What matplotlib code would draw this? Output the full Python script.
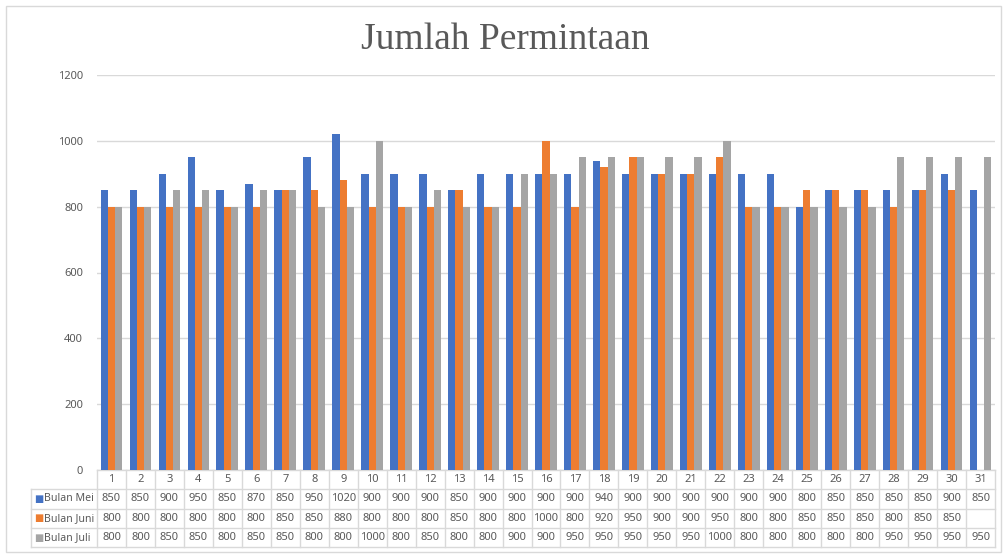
import matplotlib.pyplot as plt
import matplotlib.transforms as mtransforms
from matplotlib.patches import Rectangle
import numpy as np

# data
days = [str(i) for i in range(1, 32)]
mei = [850, 850, 900, 950, 850, 870, 850, 950, 1020, 900, 900, 900, 850, 900, 900, 900,
       900, 940, 900, 900, 900, 900, 900, 900, 800, 850, 850, 850, 850, 900, 850]
juni = [800, 800, 800, 800, 800, 800, 850, 850, 880, 800, 800, 800, 850, 800, 800, 1000,
        800, 920, 950, 900, 900, 950, 800, 800, 850, 850, 850, 800, 850, 850, None]
juli = [800, 800, 850, 850, 800, 850, 850, 800, 800, 1000, 800, 850, 800, 800, 900, 900,
        950, 950, 950, 950, 950, 1000, 800, 800, 800, 800, 800, 950, 950, 950, 950]
series_names = ["Bulan Mei", "Bulan Juni", "Bulan Juli"]
colors = ["#4472C4", "#ED7D31", "#A5A5A5"]

txt_col = "#595959"
grid_col = "#D9D9D9"

fig = plt.figure(figsize=(10.05, 5.55), dpi=100)
ax = fig.add_axes([97 / 1005, 1 - 470 / 555, 898 / 1005, 395 / 555])

x = np.arange(len(days))
w = 0.25
for i, (vals, c) in enumerate(zip([mei, juni, juli], colors)):
    v = [np.nan if a is None else a for a in vals]
    ax.bar(x + (i - 1) * w, v, w, color=c, zorder=3)

ax.set_xlim(-0.5, len(days) - 0.5)
ax.set_ylim(0, 1200)
ax.set_yticks(range(0, 1201, 200))
ax.yaxis.grid(True, color=grid_col, lw=1, zorder=0)
ax.set_xticks([])
for s in ax.spines.values():
    s.set_visible(False)
ax.tick_params(axis="y", length=0, pad=10, labelsize=8, labelcolor=txt_col)
for lab in ax.get_yticklabels():
    lab.set_fontfamily("Noto Sans")

# data table under the plot
tr = mtransforms.blended_transform_factory(ax.transData, ax.transAxes)
h = 19.3 / 395
left = -2.78
right = len(days) - 0.5
lkw = dict(color=grid_col, lw=1, transform=tr, clip_on=False, zorder=1)
ax.plot([-0.5, right], [0, 0], **lkw)
for r in range(1, 5):
    ax.plot([left, right], [-r * h, -r * h], **lkw)
for k in range(len(days) + 1):
    ax.plot([k - 0.5, k - 0.5], [0, -4 * h], **lkw)
ax.plot([left, left], [-h, -4 * h], **lkw)

tkw = dict(transform=tr, ha="center", va="center", fontsize=8, color=txt_col,
           family="Noto Sans", clip_on=False)
for j, d in enumerate(days):
    ax.text(j, -0.5 * h, d, **tkw)
for r, (vals, name, c) in enumerate(zip([mei, juni, juli], series_names, colors)):
    yc = -(r + 1.5) * h
    for j, v in enumerate(vals):
        if v is not None:
            ax.text(j, yc, str(v), **tkw)
    ax.text(left + 0.12, yc, "■", transform=tr, ha="left", va="center", fontsize=7,
            color=c, family="DejaVu Sans", clip_on=False)
    ax.text(left + 0.45, yc, name, transform=tr, ha="left", va="center", fontsize=7.6,
            color=txt_col, family="Noto Sans", clip_on=False)

fig.text(0.503, 1 - 40 / 555, "Jumlah Permintaan", ha="center", va="center",
         fontsize=27, color=txt_col, family="Liberation Serif")

fig.patches.append(Rectangle((6 / 1005, 1 - 552 / 555), 995 / 1005, 546 / 555,
                             transform=fig.transFigure, fill=False,
                             edgecolor=grid_col, lw=1))

fig.savefig("out.png", dpi=100)
